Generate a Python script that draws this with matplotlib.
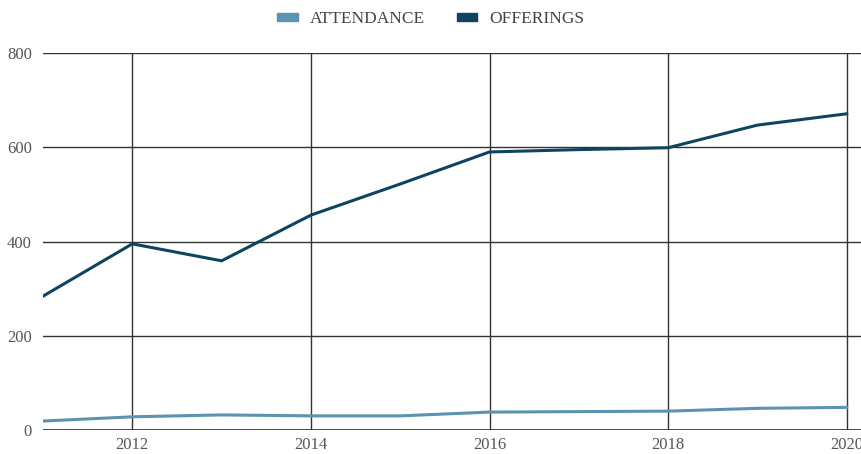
import matplotlib
matplotlib.use('Agg')
import matplotlib.pyplot as plt
from matplotlib.patches import Patch

years = [2011, 2012, 2013, 2014, 2015, 2016, 2017, 2018, 2019, 2020]
attendance = [19, 28, 32, 30, 30, 38, 39, 40, 46, 48]
offerings = [284, 395, 359, 456, 522, 590, 595, 599, 647, 671]

c_att = '#5b93b0'
c_off = '#0d4560'
grid_c = '#333333'
txt_c = '#555555'

plt.rcParams['font.family'] = ['Liberation Serif', 'DejaVu Serif']

fig = plt.figure(figsize=(8.62, 4.54), dpi=100)
ax = fig.add_axes([43/862, 24/454, (862-43)/862, 377/454])

ax.plot(years, attendance, color=c_att, lw=2.2, solid_joinstyle='round', zorder=3)
ax.plot(years, offerings, color=c_off, lw=2.2, solid_joinstyle='round', zorder=3)

ax.set_xlim(2011, 2011 + (862-43)/89.3)
ax.set_ylim(0, 800)
ax.set_xticks([2012, 2014, 2016, 2018, 2020])
ax.set_yticks([0, 200, 400, 600, 800])
ax.grid(True, color=grid_c, lw=1)
ax.set_axisbelow(True)
for s in ax.spines.values():
    s.set_visible(False)
ax.axhline(0, color=grid_c, lw=1.2, zorder=2)
ax.tick_params(length=0, labelsize=12, labelcolor=txt_c)
ax.tick_params(axis='x', pad=5)
ax.tick_params(axis='y', pad=8)

handles = [Patch(color=c_att, label='ATTENDANCE'), Patch(color=c_off, label='OFFERINGS')]
fig.legend(handles=handles, loc='upper center', bbox_to_anchor=(0.5, 1.01), ncol=2,
           frameon=False, fontsize=12.5, labelcolor='#444444', handlelength=1.2,
           handleheight=0.35, columnspacing=1.8, handletextpad=0.7)

fig.savefig('out.png', dpi=100)
